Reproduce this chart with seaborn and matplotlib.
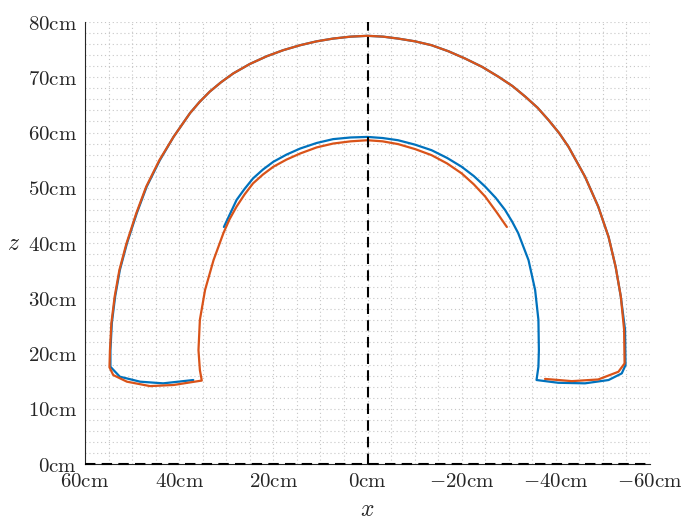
import matplotlib
matplotlib.use("Agg")
import matplotlib.pyplot as plt
import seaborn as sns
import pandas as pd
import numpy as np

# ---- data (cm) ----
blue_x = [30.5, 27.8, 26.1, 24.3, 22.2, 20.0, 17.2, 14.3, 10.8, 7.3, 3.6, 0.0,
          -3.2, -6.5, -10.1, -13.6, -16.9, -20.0, -22.6, -25.0, -27.2, -29.2, -30.7, -32.0,
          -34.2, -35.6, -36.3, -36.4, -36.3, -35.9,
          -40.5, -46.2, -51.2, -54.0, -54.8,
          -54.7, -53.8, -52.7, -51.2, -49.0, -46.2, -42.7, -40.7, -38.4, -36.1, -33.5, -30.8,
          -27.8, -24.3, -20.7, -17.2, -13.6, -10.1, -6.5, -3.3, 0.0,
          3.6, 7.3, 10.8, 14.3, 17.9, 21.4, 25.0, 28.5, 31.1, 33.5, 35.7, 37.7, 41.2, 44.1,
          46.9, 49.0, 51.1, 52.6, 53.6, 54.3, 54.6, 54.6,
          52.6, 48.3, 43.4, 37.0]
blue_z = [42.9, 47.8, 49.8, 51.7, 53.3, 54.7, 56.0, 57.1, 58.1, 58.8, 59.1, 59.2,
          59.0, 58.6, 57.8, 56.8, 55.4, 53.8, 52.1, 50.2, 48.2, 46.0, 43.9, 41.8,
          36.9, 31.5, 26.1, 20.6, 17.6, 15.2,
          14.7, 14.6, 15.2, 16.4, 17.9,
          24.3, 30.3, 35.7, 41.1, 46.6, 52.0, 57.4, 59.9, 62.3, 64.5, 66.5, 68.4,
          70.1, 71.9, 73.4, 74.7, 75.8, 76.5, 77.0, 77.35, 77.5,
          77.35, 77.0, 76.5, 75.8, 74.9, 73.8, 72.4, 70.7, 69.1, 67.4, 65.5, 63.5, 59.2, 55.0,
          50.2, 45.4, 39.9, 35.1, 30.3, 25.5, 20.6, 17.6,
          15.8, 14.9, 14.6, 15.2]

orange_x = [-29.6, -27.4, -25.0, -22.6, -20.0, -16.9, -13.6, -10.1, -6.5, -3.2, 0.0,
            3.6, 7.3, 10.8, 14.3, 17.2, 20.0, 22.2, 24.3, 26.1, 27.8, 29.3, 30.6, 32.7,
            34.5, 35.6, 35.9, 35.6, 35.2,
            41.2, 46.2, 51.1, 54.0, 54.8,
            54.7, 54.4, 53.7, 52.7, 51.2, 49.1, 47.0, 44.2, 41.2, 37.7, 35.7, 33.5, 31.1,
            28.5, 25.0, 21.4, 17.9, 14.3, 10.8, 7.3, 3.6, 0.0,
            -3.3, -6.5, -10.1, -13.6, -17.2, -20.7, -24.3, -27.8, -30.8, -33.5, -36.1, -38.4,
            -40.7, -42.7, -46.2, -49.0, -51.2, -52.7, -53.8, -54.5, -54.6,
            -53.3, -49.0, -43.4, -37.7]
orange_z = [42.9, 45.6, 48.4, 50.6, 52.6, 54.4, 55.9, 57.0, 57.9, 58.4, 58.6,
            58.4, 58.0, 57.3, 56.2, 55.1, 53.8, 52.4, 50.8, 48.8, 46.6, 44.3, 41.8, 36.9,
            31.5, 26.1, 20.6, 17.0, 15.1,
            14.3, 14.1, 14.9, 16.1, 17.5,
            20.6, 25.5, 30.3, 35.1, 39.9, 45.4, 50.2, 55.0, 59.2, 63.5, 65.5, 67.4, 69.1,
            70.7, 72.4, 73.8, 74.9, 75.8, 76.5, 77.0, 77.35, 77.5,
            77.35, 77.0, 76.5, 75.8, 74.7, 73.4, 71.9, 70.1, 68.4, 66.5, 64.5, 62.3,
            59.9, 57.4, 52.0, 46.6, 41.1, 35.7, 30.3, 24.3, 18.2,
            16.7, 15.3, 15.0, 15.4]

x_ticks = [60, 40, 20, 0, -20, -40, -60]
z_ticks = [0, 10, 20, 30, 40, 50, 60, 70, 80]
x_tick_labels = [r"$60\mathrm{cm}$", r"$40\mathrm{cm}$", r"$20\mathrm{cm}$", r"$0\mathrm{cm}$",
                 r"$-20\mathrm{cm}$", r"$-40\mathrm{cm}$", r"$-60\mathrm{cm}$"]
z_tick_labels = [r"$%d\mathrm{cm}$" % v for v in z_ticks]

df = pd.concat([
    pd.DataFrame({"x": blue_x, "z": blue_z, "series": "a"}),
    pd.DataFrame({"x": orange_x, "z": orange_z, "series": "b"}),
], ignore_index=True)

sns.set_style("white")
plt.rcParams["mathtext.fontset"] = "cm"
plt.rcParams["font.family"] = ["DejaVu Serif"]

fig = plt.figure(figsize=(6.81, 5.17), dpi=100)
ax = fig.add_axes([85 / 681, 1 - 464 / 517, 565 / 681, 442 / 517])

# dotted grid (major + minor)
ax.set_xticks(np.arange(-60, 61, 5), minor=True)
ax.set_yticks(np.arange(0, 81, 2), minor=True)
ax.grid(which="both", linestyle=(0, (1, 2.5)), linewidth=0.8, color="#c6c6c6")
ax.set_axisbelow(True)

sns.lineplot(data=df, x="x", y="z", hue="series", sort=False, estimator=None,
             palette={"a": "#0072BD", "b": "#D95319"}, linewidth=1.6,
             legend=False, ax=ax, zorder=3)

ax.axvline(0, color="black", linestyle=(0, (5, 3)), linewidth=1.5, zorder=4)
ax.axhline(0, color="black", linestyle=(0, (5, 3)), linewidth=1.5, zorder=4, clip_on=False)

ax.set_xlim(60, -60)
ax.set_ylim(0, 80)
ax.set_xticks(x_ticks)
ax.set_xticklabels(x_tick_labels)
ax.set_yticks(z_ticks)
ax.set_yticklabels(z_tick_labels)

for s in ["top", "right"]:
    ax.spines[s].set_visible(False)
for s in ["left", "bottom"]:
    ax.spines[s].set_color("#262626")
    ax.spines[s].set_linewidth(0.8)

ax.tick_params(which="major", direction="in", length=5, width=0.8, color="#262626",
               labelsize=15, labelcolor="#262626", pad=6)
ax.tick_params(which="minor", length=0)
ax.tick_params(axis="y", pad=6)

ax.set_xlabel(r"$x$", fontsize=17, color="#262626", labelpad=5)
ax.set_ylabel(r"$z$", fontsize=17, color="#262626", rotation=0, labelpad=10, va="center")

fig.savefig("out.png", dpi=100)
